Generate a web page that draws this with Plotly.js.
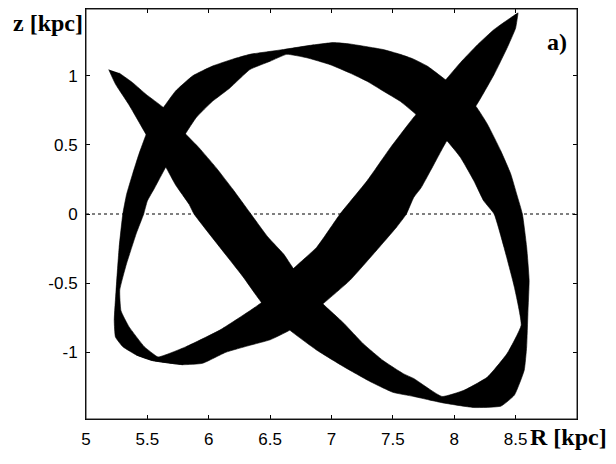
<!DOCTYPE html>
<html>
<head>
<meta charset="utf-8">
<script src="https://cdn.plot.ly/plotly-3.0.1.min.js"></script>
<style>
  html, body { margin: 0; padding: 0; background: #fff; }
  #orbit { width: 616px; height: 464px; }
</style>
</head>
<body>
<div id="orbit"></div>
<script>

// band 1: upper-left tip -> down the diagonal -> bottom right -> up the right side
const bandOneOuterR = [5.185, 5.24, 5.35, 5.49, 5.65, 5.73, 5.84, 5.88, 6.09, 6.28, 6.43, 6.66, 6.88, 7.10, 7.31, 7.50, 7.67, 7.90, 8.16, 8.38, 8.49, 8.57, 8.59, 8.60, 8.61, 8.59, 8.555, 8.51, 8.46, 8.38, 8.27, 8.175, 7.93, 7.69];
const bandOneOuterZ = [1.045, 0.94, 0.79, 0.575, 0.34, 0.21, 0.07, 0.0, -0.24, -0.455, -0.64, -0.84, -0.985, -1.105, -1.21, -1.29, -1.32, -1.365, -1.40, -1.39, -1.31, -1.13, -0.96, -0.72, -0.48, -0.24, 0.0, 0.14, 0.29, 0.455, 0.65, 0.78, 0.97, 0.72];
const bandOneInnerR = [5.27, 5.38, 5.49, 5.63, 5.81, 5.92, 6.06, 6.195, 6.335, 6.48, 6.61, 6.69, 6.93, 7.10, 7.26, 7.42, 7.585, 7.67, 7.90, 8.08, 8.27, 8.43, 8.545, 8.49, 8.405, 8.325, 8.24, 8.16, 8.05, 7.94];
const bandOneInnerZ = [1.02, 0.95, 0.865, 0.77, 0.58, 0.48, 0.335, 0.18, 0.01, -0.165, -0.29, -0.395, -0.65, -0.79, -0.94, -1.06, -1.155, -1.19, -1.32, -1.275, -1.18, -1.01, -0.805, -0.53, -0.24, 0.0, 0.095, 0.24, 0.41, 0.53];

// band 2: top arc -> left side -> lower-left corner
const bandTwoOuterR = [7.93, 7.78, 7.67, 7.56, 7.42, 7.29, 7.15, 7.015, 6.825, 6.61, 6.335, 6.195, 6.03, 5.87, 5.73, 5.63, 5.54, 5.49, 5.43, 5.38, 5.33, 5.30, 5.27, 5.245, 5.23, 5.24, 5.30, 5.41, 5.54, 5.79];
const bandTwoOuterZ = [0.97, 1.07, 1.12, 1.155, 1.19, 1.21, 1.23, 1.24, 1.22, 1.19, 1.155, 1.12, 1.07, 1.0, 0.89, 0.77, 0.67, 0.575, 0.43, 0.29, 0.14, 0.0, -0.24, -0.55, -0.77, -0.89, -0.96, -1.02, -1.06, -1.09];
const bandTwoInnerR = [7.69, 7.56, 7.42, 7.29, 7.15, 6.99, 6.80, 6.635, 6.50, 6.335, 6.17, 6.03, 5.90, 5.81, 5.65, 5.56, 5.50, 5.47, 5.41, 5.33, 5.275, 5.285, 5.35, 5.475, 5.585];
const bandTwoInnerZ = [0.72, 0.815, 0.89, 0.96, 1.02, 1.08, 1.13, 1.155, 1.105, 1.045, 0.91, 0.815, 0.70, 0.58, 0.34, 0.19, 0.095, 0.0, -0.14, -0.36, -0.55, -0.70, -0.815, -0.96, -1.035];

// band 3: lower-left corner -> up the diagonal -> upper-right tip
const bandThreeLowerR = [5.41, 5.54, 5.79, 5.95, 6.14, 6.335, 6.50, 6.66, 6.93, 7.15, 7.37, 7.53, 7.61, 7.67, 7.73, 7.835, 7.94, 8.175, 8.325, 8.43, 8.50, 8.52];
const bandThreeLowerZ = [-1.02, -1.06, -1.09, -1.08, -1.0, -0.95, -0.91, -0.84, -0.65, -0.48, -0.26, -0.095, 0.0, 0.12, 0.19, 0.36, 0.53, 0.78, 1.01, 1.20, 1.345, 1.455];
const bandThreeUpperR = [5.44, 5.585, 5.815, 6.09, 6.335, 6.43, 6.69, 6.88, 7.07, 7.29, 7.48, 7.67, 7.69, 7.93, 8.05, 8.19, 8.325, 8.46, 8.52];
const bandThreeUpperZ = [-0.98, -1.035, -0.96, -0.84, -0.70, -0.64, -0.395, -0.24, 0.0, 0.24, 0.48, 0.70, 0.72, 0.97, 1.095, 1.225, 1.335, 1.42, 1.455];

const xTicks = [5, 5.5, 6, 6.5, 7, 7.5, 8, 8.5];
const xTickText = ["5", "5.5", "6", "6.5", "7", "7.5", "8", "8.5"];
const yTicks = [-1, -0.5, 0, 0.5, 1];
const yTickText = ["-1", "-0.5", "0", "0.5", "1"];

function band(outerR, outerZ, innerR, innerZ) {
    return {
        x: outerR.concat(innerR.slice().reverse()),
        y: outerZ.concat(innerZ.slice().reverse()),
        type: "scatter",
        mode: "lines",
        fill: "toself",
        fillcolor: "#000",
        line: { color: "#000", width: 0.6, shape: "spline", smoothing: 0.4 },
        hoverinfo: "skip"
    };
}

const traces = [
    band(bandOneOuterR, bandOneOuterZ, bandOneInnerR, bandOneInnerZ),
    band(bandTwoOuterR, bandTwoOuterZ, bandTwoInnerR, bandTwoInnerZ),
    band(bandThreeLowerR, bandThreeLowerZ, bandThreeUpperR, bandThreeUpperZ)
];

const axisFont = { family: "Liberation Sans, Arial, sans-serif", size: 17, color: "#000" };
const labelFont = { family: "Liberation Serif, Times New Roman, serif", size: 24, color: "#000" };

const layout = {
    width: 616,
    height: 464,
    margin: { l: 86, r: 39, t: 9, b: 45 },
    paper_bgcolor: "#fff",
    plot_bgcolor: "#fff",
    showlegend: false,
    xaxis: {
        range: [5, 9],
        tickvals: xTicks,
        ticktext: xTickText,
        ticks: "inside",
        ticklen: 4,
        tickcolor: "#000",
        showline: true,
        linecolor: "#000",
        linewidth: 1,
        mirror: "ticks",
        showgrid: false,
        zeroline: false,
        tickfont: axisFont,
        ticklabelstandoff: 5
    },
    yaxis: {
        range: [-1.483, 1.483],
        tickvals: yTicks,
        ticktext: yTickText,
        ticks: "inside",
        ticklen: 4,
        tickcolor: "#000",
        showline: true,
        linecolor: "#000",
        linewidth: 1,
        mirror: "ticks",
        showgrid: false,
        zeroline: false,
        tickfont: axisFont,
        ticklabelstandoff: 4
    },
    shapes: [
        {
            type: "line", layer: "below",
            xref: "paper", x0: 0, x1: 1,
            yref: "y", y0: 0, y1: 0,
            line: { color: "#000", width: 1, dash: "dot" }
        },
        {
            type: "rect", layer: "above",
            xref: "paper", x0: 0, x1: 1,
            yref: "paper", y0: 0, y1: 1,
            line: { color: "#222", width: 1 }
        }
    ],
    annotations: [
        { text: "<b>z [kpc]</b>", xref: "paper", yref: "paper", x: -0.078, y: 0.965,
          xanchor: "center", yanchor: "middle", showarrow: false, font: labelFont },
        { text: "<b>R [kpc]</b>", xref: "paper", yref: "paper", x: 0.982, y: -0.044,
          xanchor: "center", yanchor: "middle", showarrow: false, font: labelFont },
        { text: "<b>a)</b>", xref: "x", yref: "y", x: 8.835, y: 1.247,
          xanchor: "center", yanchor: "middle", showarrow: false, font: labelFont }
    ]
};

Plotly.newPlot("orbit", traces, layout, { displayModeBar: false, staticPlot: true });
</script>
</body>
</html>
